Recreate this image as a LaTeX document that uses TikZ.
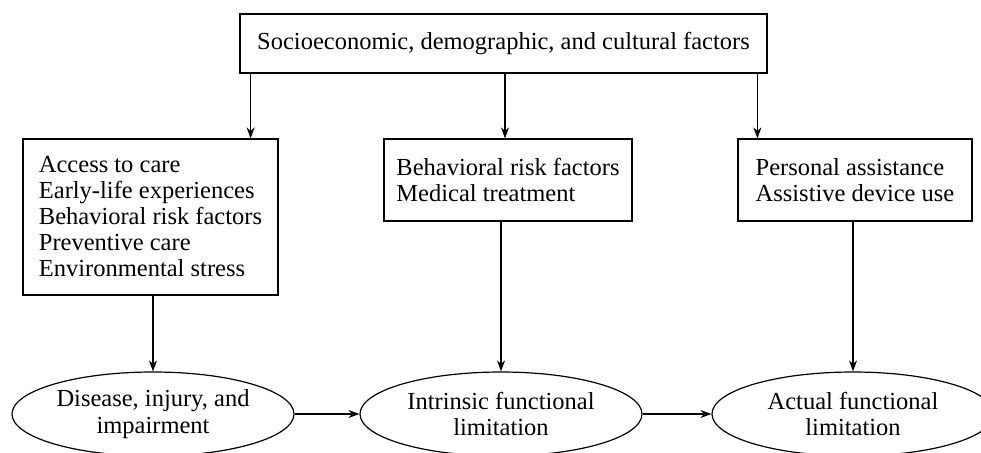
\documentclass[tikz,border=0pt]{standalone}
\usepackage{fontspec}
\setmainfont{Liberation Serif}
\usetikzlibrary{arrows.meta,shapes.geometric}
\begin{document}
\begin{tikzpicture}[x=1pt,y=-1pt,
  every node/.style={font=\fontsize{24.5}{26}\selectfont},
  boxnode/.style={draw,line width=1.2pt,rectangle,inner sep=0pt},
  ellnode/.style={draw,line width=1.2pt,ellipse,inner sep=0pt,minimum width=282pt,minimum height=84pt,align=center,font=\fontsize{24.5}{26.5}\selectfont},
  arr/.style={line width=1.2pt,-{Stealth[length=11pt,width=8pt]}}]
\useasboundingbox (0,0) rectangle (981,452);
\clip (0,0) rectangle (981,452);
% top box
\node[boxnode,minimum width=527pt,minimum height=59pt] (top) at (503.5,43.5)
  {Socioeconomic, demographic, and cultural factors};
% middle row boxes
\node[boxnode,minimum width=255pt,minimum height=156pt,align=left] (lbox) at (150.5,217)
  {Access to care\\Early-life experiences\\Behavioral risk factors\\Preventive care\\Environmental stress};
\node[boxnode,minimum width=248pt,minimum height=82pt,align=left] (mbox) at (508,180)
  {Behavioral risk factors\\Medical treatment};
\node[boxnode,minimum width=234pt,minimum height=82pt,align=left] (rbox) at (855,180)
  {Personal assistance\\Assistive device use};
% ellipses
\node[ellnode] (lell) at (153,414) {Disease, injury, and\\impairment};
\node[ellnode] (mell) at (501,414) {Intrinsic functional\\limitation};
\node[ellnode] (rell) at (853,414) {Actual functional\\limitation};
% arrow attachment points
\coordinate (la) at ([xshift=-28pt]lbox.north east);
\coordinate (ma) at ([xshift=-3pt]mbox.north);
\coordinate (ra) at ([xshift=20pt]rbox.north west);
\draw[arr] (top.south -| la) -- (la);
\draw[arr] (top.south -| ma) -- (ma);
\draw[arr] (top.south -| ra) -- (ra);
\draw[arr] (lbox.south -| lell.north) -- (lell.north);
\draw[arr] (mbox.south -| mell.north) -- (mell.north);
\draw[arr] (rbox.south -| rell.north) -- (rell.north);
\draw[arr] (lell.east) -- (mell.west);
\draw[arr] (mell.east) -- (rell.west);
\end{tikzpicture}
\end{document}
